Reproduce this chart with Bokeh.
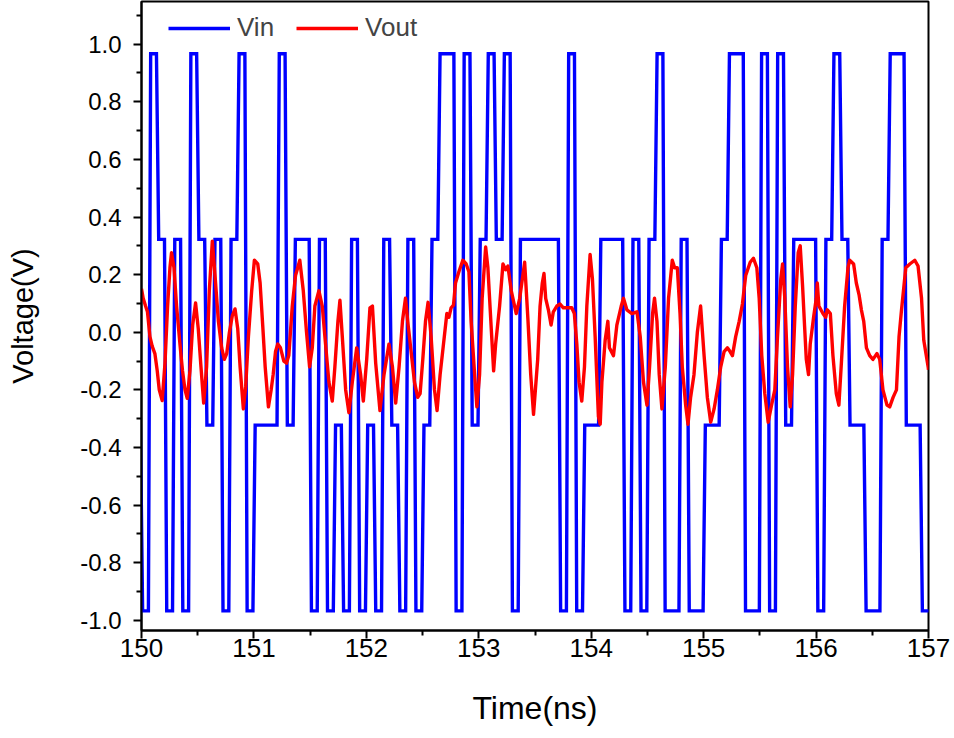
from bokeh.plotting import figure
from bokeh.models import Range1d, FixedTicker, Legend, LegendItem, NumeralTickFormatter
from bokeh.embed import file_html
from bokeh.resources import INLINE

# ---------------- data ----------------
# Vin: PAM4 symbols (-3, -1, 1, 3), one per symbol period, starting at 150 ns
vin_symbol_period = 0.0715      # ns
vin_edge_time = 0.02            # ns (rise / fall)
vin_level_step = 0.3223         # V per PAM4 unit (outer level = 0.967 V)
vin_start = 150.0
vin_previous_symbol = -1
vin_symbols = [
    -3, 3, 1, -3, 1, -3, 3, 1, -1, 1,
    -3, 1, 3, -3, -1, -1, -1, 3, -1, 1,
    1, -3, 1, -3, -1, -3, 1, -3, -1, -3,
    1, -1, -3, 1, -3, -1, 1, 3, 3, -3,
    3, -1, 1, 3, 1, 3, -3, 1, 1, 1,
    1, 1, -3, 3, -3, -1, -1, 1, 1, 1,
    -3, 1, -3, 1, 3, -3, -3, 1, -3, -3,
    -1, -1, 1, 3, 3, -3, -3, 3, -3, 3,
    -1, 1, 1, 1, -3, 1, 3, 1, -1, -1,
    -3, -3, 1, 3, 3, -1, -1, -3,
]

# Vout: received waveform (time in ns, voltage in V)
vout_t = [
    150.000, 150.015, 150.036, 150.053, 150.075, 150.095, 150.119, 150.140, 150.158, 150.184,
    150.209, 150.232, 150.253, 150.267, 150.289, 150.312, 150.342, 150.365, 150.387, 150.407,
    150.431, 150.455, 150.481, 150.505, 150.529, 150.553, 150.579, 150.603, 150.630, 150.654,
    150.684, 150.713, 150.737, 150.758, 150.782, 150.808, 150.832, 150.856, 150.877, 150.906,
    150.927, 150.951, 150.980, 151.004, 151.034, 151.055, 151.078, 151.100, 151.129, 151.153,
    151.171, 151.192, 151.212, 151.236, 151.266, 151.290, 151.310, 151.341, 151.370, 151.408,
    151.439, 151.468, 151.495, 151.519, 151.542, 151.578, 151.608, 151.637, 151.667, 151.697,
    151.720, 151.747, 151.765, 151.786, 151.816, 151.845, 151.875, 151.914, 151.949, 151.973,
    152.003, 152.032, 152.054, 152.083, 152.121, 152.157, 152.201, 152.232, 152.261, 152.291,
    152.321, 152.348, 152.368, 152.398, 152.428, 152.457, 152.478, 152.502, 152.526, 152.549,
    152.576, 152.606, 152.629, 152.656, 152.686, 152.716, 152.734, 152.754, 152.775, 152.793,
    152.823, 152.858, 152.888, 152.912, 152.932, 152.963, 152.983, 153.007, 153.030, 153.061,
    153.081, 153.111, 153.132, 153.150, 153.185, 153.215, 153.239, 153.259, 153.289, 153.333,
    153.364, 153.408, 153.438, 153.462, 153.487, 153.524, 153.545, 153.565, 153.580, 153.595,
    153.619, 153.643, 153.663, 153.694, 153.723, 153.752, 153.827, 153.850, 153.872, 153.892,
    153.916, 153.940, 153.961, 153.990, 154.011, 154.035, 154.064, 154.080, 154.095, 154.124,
    154.148, 154.162, 154.198, 154.228, 154.267, 154.287, 154.317, 154.362, 154.407, 154.436,
    154.465, 154.496, 154.519, 154.546, 154.563, 154.585, 154.605, 154.629, 154.659, 154.688,
    154.721, 154.742, 154.766, 154.790, 154.810, 154.840, 154.861, 154.884, 154.914, 154.944,
    154.973, 155.004, 155.033, 155.063, 155.093, 155.122, 155.152, 155.182, 155.211, 155.235,
    155.256, 155.285, 155.316, 155.345, 155.374, 155.414, 155.443, 155.473, 155.494, 155.517,
    155.544, 155.574, 155.604, 155.633, 155.657, 155.686, 155.702, 155.722, 155.746, 155.770,
    155.791, 155.815, 155.841, 155.859, 155.880, 155.898, 155.913, 155.933, 155.948, 155.978,
    156.002, 156.011, 156.025, 156.061, 156.085, 156.100, 156.127, 156.150, 156.180, 156.203,
    156.225, 156.254, 156.284, 156.299, 156.334, 156.358, 156.382, 156.403, 156.424, 156.448,
    156.477, 156.506, 156.542, 156.566, 156.595, 156.631, 156.655, 156.685, 156.715, 156.738,
    156.760, 156.798, 156.834, 156.878, 156.907, 156.938, 156.958, 156.997, 157.000,
]
vout_v = [
    0.151, 0.118, 0.091, 0.071, -0.015, -0.048, -0.074, -0.134, -0.200, -0.237,
    -0.107, 0.091, 0.224, 0.276, 0.224, 0.091, -0.041, -0.134, -0.200, -0.229,
    -0.134, 0.025, 0.102, 0.012, -0.120, -0.246, -0.120, 0.144, 0.316, 0.197,
    0.038, -0.054, -0.094, -0.074, 0.000, 0.058, 0.081, 0.012, -0.120, -0.266,
    -0.187, -0.015, 0.144, 0.250, 0.237, 0.171, 0.025, -0.120, -0.259, -0.200,
    -0.147, -0.067, -0.041, -0.054, -0.100, -0.107, -0.081, 0.091, 0.197, 0.250,
    0.144, 0.000, -0.120, -0.054, 0.091, 0.144, 0.091, -0.041, -0.173, -0.239,
    -0.120, 0.038, 0.111, -0.015, -0.200, -0.279, -0.173, -0.054, -0.147, -0.239,
    -0.094, 0.085, 0.091, -0.107, -0.272, -0.147, -0.041, -0.120, -0.246, -0.120,
    0.038, 0.118, 0.038, -0.067, -0.173, -0.226, -0.213, -0.094, 0.038, 0.104,
    -0.015, -0.200, -0.272, -0.147, -0.041, 0.065, 0.052, 0.085, 0.094, 0.171,
    0.210, 0.250, 0.237, 0.210, 0.038, -0.147, -0.259, -0.147, 0.118, 0.296,
    0.224, 0.012, -0.134, -0.041, 0.091, 0.237, 0.217, 0.230, 0.144, 0.065,
    0.118, 0.243, 0.038, -0.147, -0.285, -0.094, 0.091, 0.171, 0.204, 0.118,
    0.078, 0.025, 0.071, 0.091, 0.098, 0.085, 0.085, 0.065, -0.041, -0.173,
    -0.239, -0.120, 0.091, 0.270, 0.184, -0.015, -0.292, -0.319, -0.173, -0.028,
    0.038, -0.054, -0.081, 0.025, 0.091, 0.118, 0.078, 0.065, 0.071, -0.015,
    -0.173, -0.253, -0.120, 0.065, 0.118, 0.038, -0.147, -0.266, -0.120, 0.118,
    0.250, 0.224, 0.224, 0.065, -0.120, -0.253, -0.319, -0.226, -0.147, 0.000,
    0.091, -0.081, -0.226, -0.312, -0.266, -0.200, -0.120, -0.067, -0.054, -0.067,
    -0.081, -0.015, 0.038, 0.098, 0.197, 0.243, 0.257, 0.224, 0.118, -0.081,
    -0.213, -0.312, -0.253, -0.200, -0.015, 0.184, 0.237, 0.118, -0.120, -0.259,
    -0.147, 0.091, 0.276, 0.300, 0.160, 0.020, -0.094, -0.147, -0.041, 0.052,
    0.118, 0.171, 0.091, 0.065, 0.052, 0.078, 0.065, -0.081, -0.213, -0.253,
    -0.107, 0.091, 0.224, 0.250, 0.237, 0.171, 0.131, 0.078, 0.038, -0.054,
    -0.081, -0.094, -0.074, -0.094, -0.200, -0.253, -0.259, -0.226, -0.200, -0.015,
    0.078, 0.224, 0.237, 0.250, 0.230, 0.118, -0.028, -0.120, -0.130,
]

x_ticks = [150, 151, 152, 153, 154, 155, 156, 157]
x_minor = [150.5, 151.5, 152.5, 153.5, 154.5, 155.5, 156.5]
y_ticks = [-1.0, -0.8, -0.6, -0.4, -0.2, 0.0, 0.2, 0.4, 0.6, 0.8, 1.0]
y_minor = [-0.9, -0.7, -0.5, -0.3, -0.1, 0.1, 0.3, 0.5, 0.7, 0.9, 1.1]

# ---------------- build the Vin step waveform from its symbols ----------------
vin_t = [vin_start - 0.05]
prev = vin_previous_symbol * vin_level_step
vin_v = [prev]
for k, s in enumerate(vin_symbols):
    lvl = s * vin_level_step
    tk = vin_start + k * vin_symbol_period
    if lvl != prev:
        vin_t += [tk - vin_edge_time / 2, tk + vin_edge_time / 2]
        vin_v += [prev, lvl]
    prev = lvl
vin_t.append(vin_start + len(vin_symbols) * vin_symbol_period + 0.05)
vin_v.append(prev)

FONT = "Liberation Sans"

p = figure(width=954, height=738, output_backend="svg", toolbar_location=None,
           x_range=Range1d(150, 157), y_range=Range1d(-1.035, 1.148),
           min_border_left=141, min_border_right=26, min_border_top=1, min_border_bottom=108)
p.background_fill_color = "white"
p.border_fill_color = "white"
p.outline_line_color = "black"
p.outline_line_width = 2
p.xgrid.visible = False
p.ygrid.visible = False

r_in = p.line(vin_t, vin_v, line_color="#0000ff", line_width=3.4, line_join="miter")
r_out = p.line(vout_t, vout_v, line_color="#ff0000", line_width=3.4, line_join="round")

for ax in (p.xaxis[0], p.yaxis[0]):
    ax.axis_line_width = 2
    ax.axis_line_color = "black"
    ax.major_tick_line_width = 2
    ax.minor_tick_line_width = 2
    ax.major_tick_in = 0
    ax.major_tick_out = 8
    ax.minor_tick_in = 0
    ax.minor_tick_out = 5
    ax.major_label_text_font = FONT
    ax.major_label_text_color = "black"
    ax.axis_label_text_font = FONT
    ax.axis_label_text_font_style = "normal"
    ax.axis_label_text_color = "black"

p.xaxis.ticker = FixedTicker(ticks=x_ticks, minor_ticks=x_minor)
p.yaxis.ticker = FixedTicker(ticks=y_ticks, minor_ticks=y_minor)
p.yaxis.formatter = NumeralTickFormatter(format="0.0")
p.xaxis.major_label_text_font_size = "26px"
p.yaxis.major_label_text_font_size = "24px"
p.xaxis.major_label_standoff = 0
p.yaxis.major_label_standoff = 12
p.xaxis.axis_label = "Time(ns)"
p.yaxis.axis_label = "Voltage(V)"
p.xaxis.axis_label_text_font_size = "32px"
p.yaxis.axis_label_text_font_size = "29px"
p.xaxis.axis_label_standoff = 30
p.yaxis.axis_label_standoff = 38

legend = Legend(items=[LegendItem(label="Vin", renderers=[r_in]),
                       LegendItem(label="Vout", renderers=[r_out])],
                orientation="horizontal", location=(27, 587),
                padding=0, margin=0, spacing=22, glyph_width=62, glyph_height=26,
                label_height=26, label_standoff=7,
                label_text_font=FONT, label_text_font_size="26px",
                border_line_alpha=0, background_fill_alpha=0)
p.add_layout(legend)

open("out.html", "w").write(file_html(p, INLINE))
